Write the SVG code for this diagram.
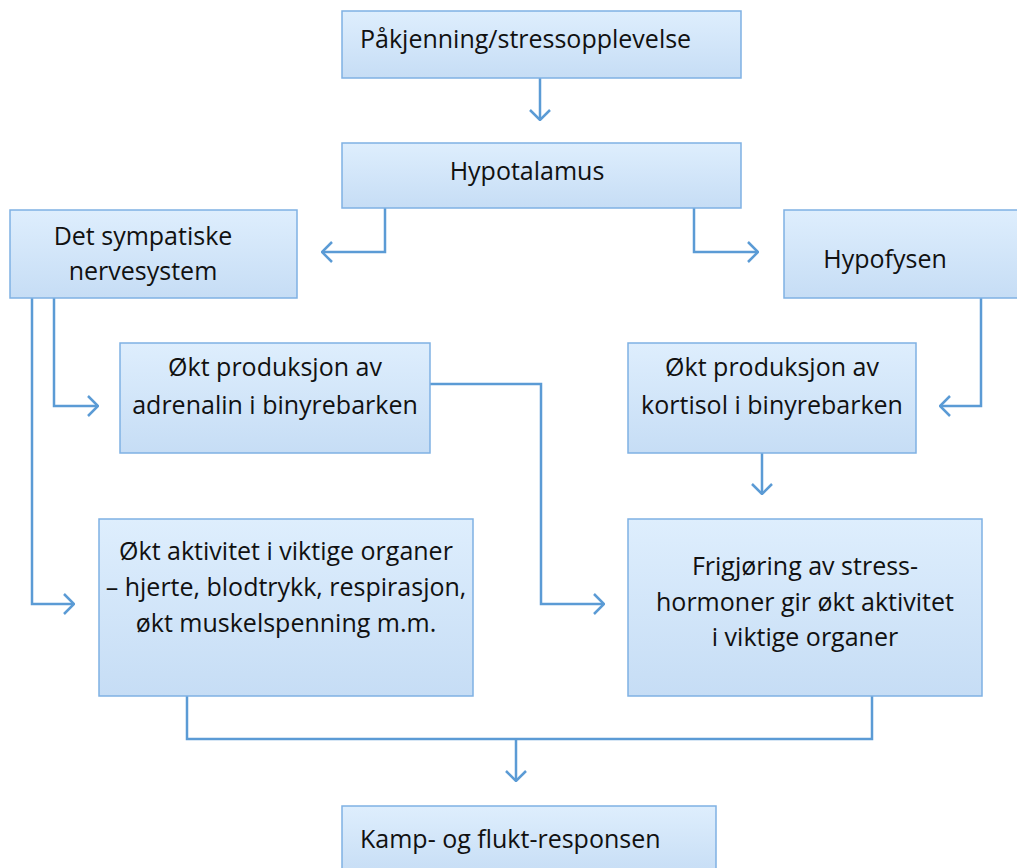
<svg xmlns="http://www.w3.org/2000/svg" width="1017" height="868" viewBox="0 0 1017 868">
<defs>
<linearGradient id="g" x1="0" y1="0" x2="0" y2="1">
<stop offset="0" stop-color="#deeefd"/>
<stop offset="1" stop-color="#c6ddf5"/>
</linearGradient>
<marker id="a" viewBox="0 0 12 22" refX="11" refY="11" markerWidth="12" markerHeight="22" markerUnits="userSpaceOnUse" orient="auto">
<path d="M1,1 L11,11 L1,21" fill="none" stroke="#5b9bd5" stroke-width="2.5"/>
</marker>
<style>
.box{fill:url(#g);stroke:#7fb1e3;stroke-width:1.5}
.t{font-family:"Open Sans","Liberation Sans",sans-serif;font-size:25px;fill:#111}
.c{text-anchor:middle}
.ln{fill:none;stroke:#5b9bd5;stroke-width:2.5;marker-end:url(#a)}
.ln2{fill:none;stroke:#5b9bd5;stroke-width:2.5}
</style>
</defs>
<rect width="1017" height="868" fill="#fff"/>
<g id="connectors">
<path class="ln" d="M540,78 V120"/>
<path class="ln" d="M385,208 V252 H322"/>
<path class="ln" d="M694,208 V252 H758"/>
<path class="ln" d="M54,298 V406 H98"/>
<path class="ln" d="M32,298 V604 H74"/>
<path class="ln" d="M981,298 V406 H940"/>
<path class="ln" d="M762,453 V494"/>
<path class="ln" d="M430,384 H541 V604 H604"/>
<path class="ln2" d="M187,696 V739 H872 V696"/>
<path class="ln" d="M516,739 V781"/>
</g>
<g id="n1"><rect class="box" x="342" y="11" width="399" height="67"/><text class="t" x="360" y="48">Påkjenning/stressopplevelse</text></g>
<g id="n2"><rect class="box" x="342" y="143" width="399" height="65"/><text class="t c" x="527" y="180">Hypotalamus</text></g>
<g id="n3"><rect class="box" x="10" y="210" width="287" height="88"/><text class="t c" x="143" y="245">Det sympatiske</text><text class="t c" x="143" y="280">nervesystem</text></g>
<g id="n4"><rect class="box" x="784" y="210" width="240" height="88"/><text class="t c" x="885" y="268">Hypofysen</text></g>
<g id="n5"><rect class="box" x="120" y="343" width="310" height="110"/><text class="t c" x="275" y="376">Økt produksjon av</text><text class="t c" x="275" y="414">adrenalin i binyrebarken</text></g>
<g id="n6"><rect class="box" x="628" y="343" width="288" height="110"/><text class="t c" x="772" y="376">Økt produksjon av</text><text class="t c" x="772" y="414">kortisol i binyrebarken</text></g>
<g id="n7"><rect class="box" x="99" y="519" width="374" height="177"/><text class="t c" x="286" y="560">Økt aktivitet i viktige organer</text><text class="t c" x="286" y="596">– hjerte, blodtrykk, respirasjon,</text><text class="t c" x="286" y="632">økt muskelspenning m.m.</text></g>
<g id="n8"><rect class="box" x="628" y="519" width="354" height="177"/><text class="t c" x="805" y="575">Frigjøring av stress-</text><text class="t c" x="805" y="611">hormoner gir økt aktivitet</text><text class="t c" x="805" y="646">i viktige organer</text></g>
<g id="n9"><rect class="box" x="342" y="806" width="374" height="70"/><text class="t" x="360" y="848">Kamp- og flukt-responsen</text></g>
</svg>
